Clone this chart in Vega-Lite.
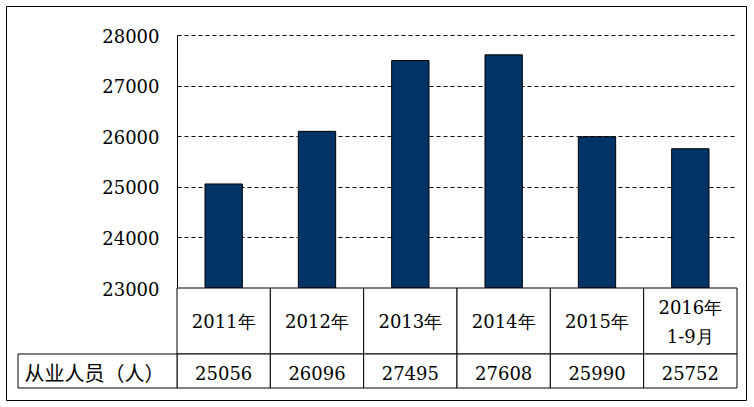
{
  "$schema": "https://vega.github.io/schema/vega-lite/v6.json",
  "width": 740,
  "height": 394,
  "autosize": "none",
  "padding": {"left": 6, "top": 6, "right": 8, "bottom": 7},
  "background": "white",
  "config": {"view": {"stroke": "black", "strokeWidth": 1}},
  "data": {"values": [
    {"cat": "2011年", "label": "2011年", "value": 25056},
    {"cat": "2012年", "label": "2012年", "value": 26096},
    {"cat": "2013年", "label": "2013年", "value": 27495},
    {"cat": "2014年", "label": "2014年", "value": 27608},
    {"cat": "2015年", "label": "2015年", "value": 25990},
    {"cat": "2016年1-9月", "label": "2016年\n1-9月", "value": 25752}
  ]},
  "resolve": {"scale": {"x": "independent", "y": "independent"}, "axis": {"x": "independent", "y": "independent"}},
  "layer": [
    {
      "mark": {"type": "bar", "fill": "#003366", "stroke": "black", "strokeWidth": 1},
      "encoding": {
        "x": {"field": "cat", "type": "nominal", "sort": null, "axis": null,
              "scale": {"range": [171, 731], "paddingInner": 0.6, "paddingOuter": 0.3}},
        "y": {"field": "value", "type": "quantitative",
              "scale": {"domain": [23000, 28000], "range": [282, 29], "zero": false, "nice": false},
              "axis": {"orient": "left", "offset": -171, "ticks": false, "labelPadding": 18,
                       "labelFont": "DejaVu Serif", "labelFontSize": 18, "labelFontWeight": "normal", "labelColor": "black",
                       "labelOffset": 2, "labelBaseline": "middle",
                       "values": [23000, 24000, 25000, 26000, 27000, 28000], "format": "d",
                       "domainColor": "black", "domainWidth": 1, "grid": true, "gridColor": "black",
                       "gridDash": [4, 3], "gridOpacity": 1, "gridWidth": 1, "title": null}},
        "y2": {"datum": 23000}
      }
    },
    {
      "layer": [
        {"mark": {"type": "rect", "fill": "white", "stroke": "black", "strokeWidth": 1},
         "encoding": {
           "x": {"field": "cat", "type": "nominal", "sort": null, "axis": null,
                 "scale": {"range": [171, 731], "paddingInner": 0, "paddingOuter": 0}},
           "y": {"datum": "年份", "type": "nominal", "axis": null,
                 "scale": {"range": [282, 348], "paddingInner": 0, "paddingOuter": 0}}}},
        {"transform": [{"filter": "datum.cat != '2016年1-9月'"}],
         "mark": {"type": "text", "font": "DejaVu Serif", "fontSize": 18, "color": "black",
                  "baseline": "middle", "align": "center", "dy": 2},
         "encoding": {
           "x": {"field": "cat", "type": "nominal", "sort": null, "axis": null},
           "y": {"datum": "年份", "type": "nominal", "axis": null},
           "text": {"field": "label"}}},
        {"transform": [{"filter": "datum.cat == '2016年1-9月'"}],
         "mark": {"type": "text", "font": "DejaVu Serif", "fontSize": 18, "color": "black",
                  "baseline": "middle", "align": "center", "lineBreak": "\n", "lineHeight": 28.5, "dy": -12},
         "encoding": {
           "x": {"field": "cat", "type": "nominal", "sort": null, "axis": null},
           "y": {"datum": "年份", "type": "nominal", "axis": null},
           "text": {"field": "label"}}}
      ]
    },
    {
      "layer": [
        {"mark": {"type": "rect", "fill": "white", "stroke": "black", "strokeWidth": 1},
         "encoding": {
           "x": {"field": "cat", "type": "nominal", "sort": null, "axis": null,
                 "scale": {"range": [171, 731], "paddingInner": 0, "paddingOuter": 0}},
           "y": {"datum": "从业人员（人）", "type": "nominal", "axis": null,
                 "scale": {"range": [348, 382], "paddingInner": 0, "paddingOuter": 0}}}},
        {"mark": {"type": "text", "font": "DejaVu Serif", "fontSize": 18, "color": "black",
                  "baseline": "middle", "align": "center", "dy": 4},
         "encoding": {
           "x": {"field": "cat", "type": "nominal", "sort": null, "axis": null},
           "y": {"datum": "从业人员（人）", "type": "nominal", "axis": null},
           "text": {"field": "value", "type": "quantitative", "format": "d"}}}
      ]
    },
    {
      "data": {"values": [{"header": "从业人员（人）"}]},
      "layer": [
        {"mark": {"type": "rect", "fill": "white", "stroke": "black", "strokeWidth": 1},
         "encoding": {
           "x": {"field": "header", "type": "nominal", "axis": null,
                 "scale": {"range": [12, 171], "paddingInner": 0, "paddingOuter": 0}},
           "y": {"field": "header", "type": "nominal", "axis": null,
                 "scale": {"range": [348, 382], "paddingInner": 0, "paddingOuter": 0}}}},
        {"mark": {"type": "text", "font": "Noto Sans CJK SC", "fontSize": 20, "color": "black",
                  "baseline": "middle", "align": "center", "dy": 4, "dx": -3},
         "encoding": {
           "x": {"field": "header", "type": "nominal", "axis": null},
           "y": {"field": "header", "type": "nominal", "axis": null},
           "text": {"field": "header"}}}
      ]
    }
  ]
}
